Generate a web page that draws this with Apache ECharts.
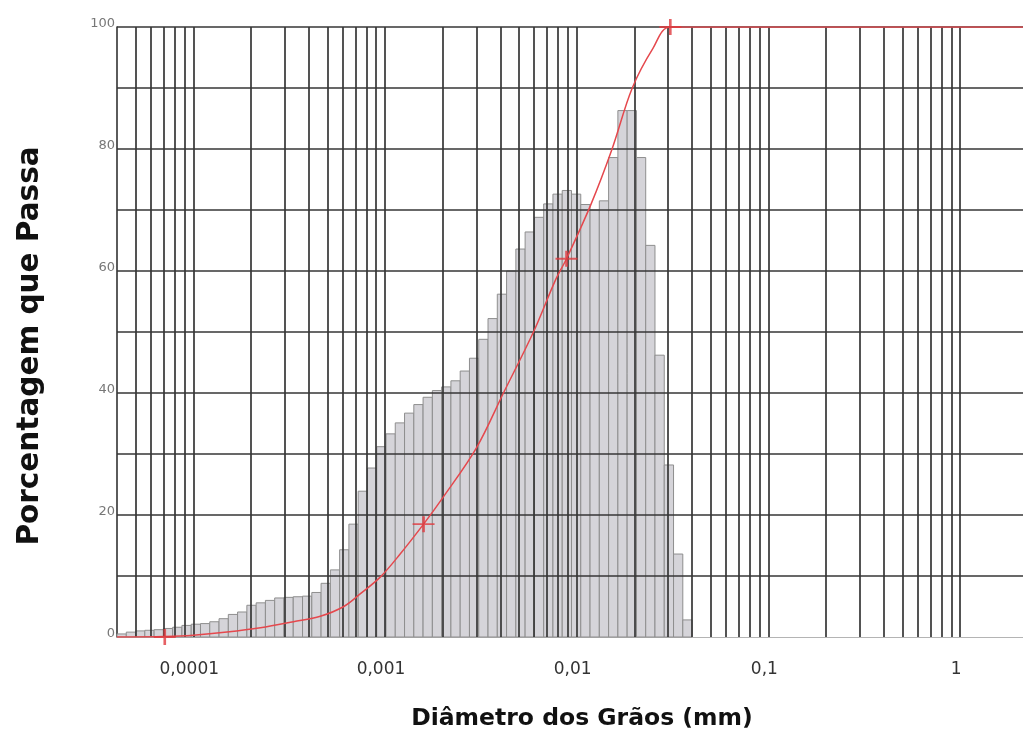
<!DOCTYPE html>
<html>
<head>
<meta charset="utf-8">
<script src="https://cdn.jsdelivr.net/npm/echarts@6/dist/echarts.min.js"></script>
<style>
  html, body { margin: 0; padding: 0; background: #ffffff; }
  #chart { width: 1023px; height: 736px; }
</style>
</head>
<body>
<div id="chart"></div>
<script>
// Size-class boundaries in micrometres (62 classes, 0.04 – 40 µm, equal log width)
const classEdgesUm = [
  0.04000, 0.04472, 0.04999, 0.05588, 0.06247, 0.06983, 0.07806, 0.08726, 0.09754, 0.10904,
  0.12189, 0.13626, 0.15232, 0.17027, 0.19034, 0.21278, 0.23785, 0.26589, 0.29723, 0.33226,
  0.37142, 0.41520, 0.46414, 0.51884, 0.58000, 0.64835, 0.72477, 0.81020, 0.90570, 1.01223,
  1.13153, 1.26490, 1.41398, 1.58064, 1.76693, 1.97518, 2.20800, 2.46824, 2.75914, 3.08435,
  3.44787, 3.85425, 4.30853, 4.81635, 5.38401, 6.01859, 6.72796, 7.52094, 8.40738, 9.39829,
  10.5060, 11.7443, 13.1285, 14.6759, 16.4057, 18.3393, 20.5008, 22.9171, 25.6182, 28.6377,
  32.0131, 35.7863, 40.0000
];

// Histogram height of each size class (%)
const classHeights = [
  0.5, 0.8, 1.0, 1.1, 1.2, 1.4, 1.6, 1.9, 2.1, 2.2,
  2.5, 3.0, 3.7, 4.1, 5.2, 5.6, 6.0, 6.4, 6.5, 6.6,
  6.7, 7.3, 8.8, 11.0, 14.3, 18.5, 23.9, 27.7, 31.2, 33.3,
  35.1, 36.7, 38.1, 39.3, 40.4, 41.0, 42.0, 43.6, 45.7, 48.8,
  52.2, 56.2, 60.0, 63.6, 66.4, 68.8, 71.0, 72.6, 73.2, 72.6,
  70.9, 70.0, 71.5, 78.6, 86.3, 86.3, 78.6, 64.2, 46.2, 28.2,
  13.6, 2.8
];

// Cumulative passing curve: grain diameter (mm) and percent passing
const curveDiameters = [
  4.0e-5, 7.1e-5, 1.0e-4, 1.5e-4, 2.24e-4, 3.33e-4, 4.6e-4, 6.1e-4, 7.45e-4, 9.5e-4,
  1.2e-3, 1.59e-3, 2.0e-3, 3.0e-3, 4.15e-3, 5.95e-3, 7.75e-3, 8.85e-3, 1.19e-2, 1.53e-2,
  1.95e-2, 2.5e-2, 3.08e-2, 2.13
];
const curvePassing = [
  0, 0.1, 0.3, 0.8, 1.5, 2.5, 3.4, 5.0, 7.1, 9.9,
  13.6, 18.5, 22.8, 31.0, 40.0, 50.0, 58.5, 62.0, 71.0, 80.0,
  90.0, 96.5, 100, 100
];

// Highlighted points on the cumulative curve
const markerDiameters = [7.1e-5, 1.59e-3, 8.85e-3, 3.08e-2];
const markerPassing = [0, 18.5, 62.0, 100];

// Axis labels
const xTickValues = [0.0001, 0.001, 0.01, 0.1, 1];
const xTickLabels = ['0,0001', '0,001', '0,01', '0,1', '1'];
const yLabelledTicks = [0, 20, 40, 60, 80, 100];

const xMin = 4e-5, xMax = 2.13;

// Log grid: every integer multiple of each decade inside the axis range
const xGridValues = [];
for (let e = -5; e <= 0; e++) {
  for (let m = 1; m <= 9; m++) {
    const v = m * Math.pow(10, e);
    if (v > xMin * 1.001 && v < xMax * 0.999 && !(e === 0 && m > 1)) xGridValues.push(v);
  }
}
const yGridValues = [10, 20, 30, 40, 50, 60, 70, 80, 90, 100];

const histData = classHeights.map((h, i) => [classEdgesUm[i] / 1000, classEdgesUm[i + 1] / 1000, h]);
const curveData = curveDiameters.map((d, i) => [d, curvePassing[i]]);
const markerData = markerDiameters.map((d, i) => [d, markerPassing[i]]);

const chart = echarts.init(document.getElementById('chart'), null, { renderer: 'canvas' });

chart.setOption({
  animation: false,
  backgroundColor: '#ffffff',
  grid: { left: 117, right: 0, top: 27, bottom: 92, containLabel: false },
  xAxis: {
    type: 'log',
    logBase: 10,
    min: xMin,
    max: xMax,
    name: 'Diâmetro dos Grãos (mm)',
    nameLocation: 'middle',
    nameGap: 70,
    nameTextStyle: {
      fontFamily: 'DejaVu Sans', fontSize: 23.5, fontWeight: 'bold', color: '#111',
      padding: [0, 0, 0, 24]
    },
    axisLine: { show: true, lineStyle: { color: '#b4b4b4', width: 1 } },
    axisTick: { show: false },
    splitLine: { show: false },
    axisLabel: {
      margin: 24,
      fontFamily: 'DejaVu Sans',
      fontSize: 17,
      color: '#333',
      padding: [0, 8, 0, 0],
      showMinLabel: false,
      showMaxLabel: false,
      formatter: function (v) {
        const i = xTickValues.findIndex(t => Math.abs(Math.log10(t) - Math.log10(v)) < 1e-6);
        return i >= 0 ? xTickLabels[i] : '';
      }
    }
  },
  yAxis: {
    type: 'value',
    min: 0,
    max: 100,
    interval: 10,
    name: 'Porcentagem que Passa',
    nameLocation: 'middle',
    nameRotate: 90,
    nameGap: 72,
    nameTextStyle: {
      fontFamily: 'DejaVu Sans', fontSize: 29.5, fontWeight: 'bold', color: '#111',
      padding: [0, 28, 0, 0]
    },
    axisLine: { show: true, lineStyle: { color: '#333', width: 1.6 } },
    axisTick: { show: false },
    splitLine: { show: false },
    axisLabel: {
      margin: 2,
      fontFamily: 'DejaVu Sans',
      fontSize: 13,
      color: '#777',
      verticalAlign: 'bottom',
      lineHeight: 7,
      formatter: function (v) { return yLabelledTicks.indexOf(v) >= 0 ? String(v) : ''; }
    }
  },
  series: [
    {
      name: 'Histograma',
      type: 'custom',
      z: 2,
      data: histData,
      encode: { x: [0, 1], y: 2 },
      renderItem: function (params, api) {
        const p0 = api.coord([api.value(0), 0]);
        const p1 = api.coord([api.value(1), api.value(2)]);
        return {
          type: 'rect',
          shape: { x: p0[0], y: p1[1], width: p1[0] - p0[0], height: p0[1] - p1[1] },
          style: { fill: '#d5d4d9', stroke: '#8e8e8e', lineWidth: 1 }
        };
      }
    },
    {
      name: 'Grade',
      type: 'line',
      z: 3,
      data: [],
      silent: true,
      markLine: {
        silent: true,
        precision: 12,
        symbol: ['none', 'none'],
        label: { show: false },
        lineStyle: { color: '#363636', width: 1.7, type: 'solid' },
        emphasis: { disabled: true },
        data: xGridValues.map(v => ({ xAxis: v })).concat(yGridValues.map(v => ({ yAxis: v })))
      }
    },
    {
      name: 'Curva acumulada',
      type: 'line',
      z: 5,
      data: curveData,
      smooth: 0.35,
      showSymbol: false,
      lineStyle: { color: '#e5484d', width: 1.5 },
      itemStyle: { color: '#e5484d' }
    },
    {
      name: 'Pontos',
      type: 'scatter',
      z: 6,
      data: markerData,
      symbol: 'path://M0,4.4H10V5.6H0Z M4.4,0H5.6V10H4.4Z',
      symbolSize: [22, 16],
      itemStyle: { color: '#e0393f' }
    }
  ]
});
</script>
</body>
</html>
